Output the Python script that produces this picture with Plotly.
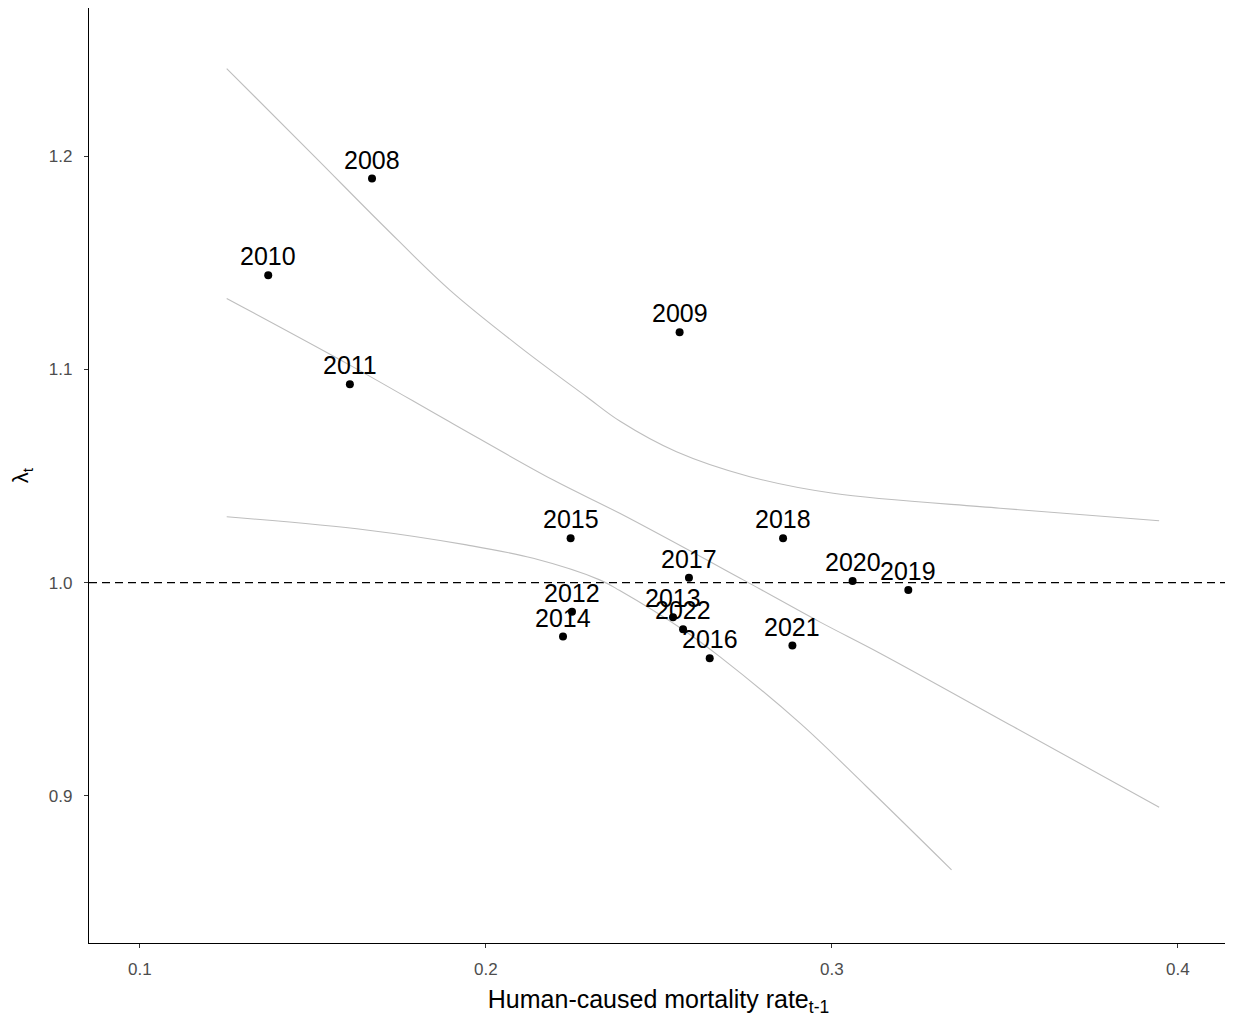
import plotly.graph_objects as go

# Observed points
years = ["2008", "2009", "2010", "2011", "2012", "2013", "2014", "2015",
         "2016", "2017", "2018", "2019", "2020", "2021", "2022"]
mortality = [0.1671, 0.2560, 0.1371, 0.1607, 0.2249, 0.2541, 0.2223, 0.2245,
             0.2647, 0.2587, 0.2859, 0.3221, 0.3060, 0.2886, 0.2570]
lam = [1.1895, 1.1174, 1.1442, 1.0931, 0.9864, 0.9838, 0.9747, 1.0208,
       0.9646, 1.0023, 1.0208, 0.9966, 1.0008, 0.9705, 0.9782]

# Fitted line
fit_x = [0.1251, 0.1616, 0.1906, 0.2195, 0.2387, 0.2744, 0.2965, 0.3139,
         0.3524, 0.3946]
fit_y = [1.1333, 1.1012, 1.0744, 1.0481, 1.0325, 1.0013, 0.9816, 0.9669,
         0.9325, 0.8947]

# Upper confidence bound
upr_x = [0.1251, 0.1506, 0.1703, 0.1896, 0.2098, 0.2291, 0.2387, 0.2551,
         0.2763, 0.3004, 0.3486, 0.3946]
upr_y = [1.2411, 1.1997, 1.1675, 1.1372, 1.1106, 1.0872, 1.0758, 1.0614,
         1.0497, 1.0419, 1.0349, 1.0290]

# Lower confidence bound
lwr_x = [0.1251, 0.1655, 0.1944, 0.2137, 0.2329, 0.2387, 0.2571, 0.2676,
         0.2908, 0.3100, 0.3346]
lwr_y = [1.0309, 1.0247, 1.0177, 1.0114, 1.0013, 0.9963, 0.9778, 0.9653,
         0.9341, 0.9044, 0.8653]

x_ticks = [0.1, 0.2, 0.3, 0.4]
x_ticklabels = ["0.1", "0.2", "0.3", "0.4"]
y_ticks = [0.9, 1.0, 1.1, 1.2]
y_ticklabels = ["0.9", "1.0", "1.1", "1.2"]
ref_level = 1.0

FONT = "Liberation Sans, Arial, sans-serif"
curve_color = "#BEBEBE"

fig = go.Figure()
for cx, cy in [(upr_x, upr_y), (fit_x, fit_y), (lwr_x, lwr_y)]:
    fig.add_trace(go.Scatter(x=cx, y=cy, mode="lines",
                             line=dict(color=curve_color, width=1.1, shape="spline", smoothing=1.0),
                             hoverinfo="skip", showlegend=False))

fig.add_shape(type="line", xref="paper", x0=0, x1=1, yref="y", y0=ref_level, y1=ref_level,
              line=dict(color="black", width=1.3, dash="8px,5px"), layer="below")

fig.add_trace(go.Scatter(x=mortality, y=lam, mode="markers",
                         marker=dict(color="black", size=8),
                         text=years, showlegend=False))

for xv, yv, t in zip(mortality, lam, years):
    fig.add_annotation(x=xv, y=yv, text=t, showarrow=False, yanchor="bottom",
                       yshift=3, font=dict(family=FONT, size=25, color="black"))

# the page body adds an 8px offset, so the figure is 8px smaller and margins shifted
fig.update_layout(
    width=1225, height=1010,
    margin=dict(l=81, r=5, t=0, b=75),
    paper_bgcolor="white", plot_bgcolor="white",
    font=dict(family=FONT),
    showlegend=False,
)
fig.update_xaxes(range=[0.0853, 0.4145], tickvals=x_ticks, ticktext=x_ticklabels,
                 showgrid=False, zeroline=False, showline=True, linecolor="black", linewidth=1.4,
                 ticks="outside", ticklen=4, tickcolor="#333333", tickwidth=1,
                 ticklabelstandoff=6,
                 tickfont=dict(family=FONT, size=17, color="#4D4D4D"),
                 title=dict(text="Human-caused mortality rate<sub>t-1</sub>",
                            font=dict(family=FONT, size=25, color="black"), standoff=12))
fig.update_yaxes(range=[0.831, 1.2695], tickvals=y_ticks, ticktext=y_ticklabels,
                 showgrid=False, zeroline=False, showline=True, linecolor="black", linewidth=1.4,
                 ticks="outside", ticklen=4, tickcolor="#333333", tickwidth=1,
                 ticklabelstandoff=8,
                 tickfont=dict(family=FONT, size=17, color="#4D4D4D"),
                 title=dict(text="λ<sub>t</sub>", font=dict(family=FONT, size=22, color="black"),
                            standoff=20))

fig.write_html("out.html")
